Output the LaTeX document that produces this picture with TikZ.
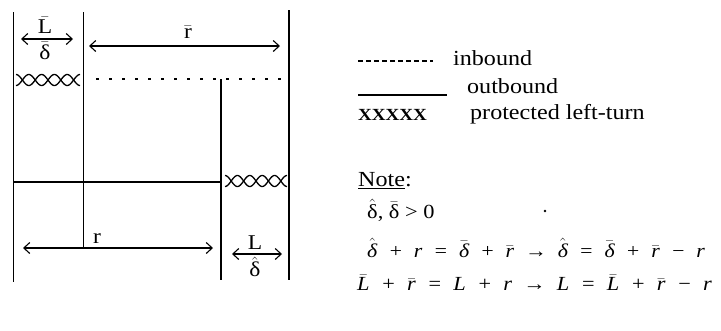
\documentclass[tikz,border=0pt]{standalone}
\usepackage{fontspec}
\setmainfont[FakeStretch=1.12]{Liberation Serif}
\usetikzlibrary{arrows.meta}
\newcommand\xxchain[4]{% x0, x1, y, name
  \pgfmathsetmacro\xw{(#2-#1)/5}
  \draw[xmark] plot[domain=#1:#2,samples=90] (\x,{#3+5.5*cos(180*(\x-#1)/\xw)});
  \draw[xmark] plot[domain=#1:#2,samples=90] (\x,{#3-5.5*cos(180*(\x-#1)/\xw)});
  \coordinate (#4) at ({(#1+#2)/2},#3);
}
\newcommand\barup[1]{$\bar{\mbox{#1}}$}
\newcommand\hatup[1]{$\hat{\mbox{#1}}$}
\newcommand\barit[1]{$\bar{\mbox{\itshape #1}}$}
\newcommand\hatit[1]{$\hat{\mbox{\itshape #1}}$}
\begin{document}
\begin{tikzpicture}[x=1pt,y=-1pt,
  road/.style={line width=1.3pt},
  xmark/.style={line width=1.3pt},
  dots/.style={line width=1.3pt,dash pattern=on 3pt off 10pt},
  dim/.style={line width=1.1pt,{Straight Barb[length=6pt,width=11pt]}-{Straight Barb[length=6pt,width=11pt]}},
  lbl/.style={font=\fontsize{21}{21}\selectfont,inner sep=0pt},
  txt/.style={font=\fontsize{21.5}{21.5}\selectfont,inner sep=0pt,anchor=west},
  eq/.style={font=\fontsize{20}{20}\selectfont\itshape,inner sep=0pt,anchor=west}]
\useasboundingbox (0,0) rectangle (721,330);
% lines
\coordinate (A1) at (13.5,12); \coordinate (A2) at (13.5,282);
\coordinate (B1) at (83.5,12); \coordinate (B2) at (83.5,248);
\coordinate (C1) at (221,79);  \coordinate (C2) at (221,280);
\coordinate (D1) at (289,10);  \coordinate (D2) at (289,280);
\coordinate (H1) at (13.5,182); \coordinate (H2) at (221,182);
\coordinate (E1) at (96,79);   \coordinate (E2) at (288,79);
\draw[road] (A1) -- (A2);
\draw[road] (B1) -- (B2);
\draw[road] (C1) -- (C2);
\draw[road] (D1) -- (D2);
\draw[road] (H1) -- (H2);
\draw[dots] (E1) -- (E2);
\xxchain{16}{80}{80}{X1}
\xxchain{225}{287}{181}{X2}
% dimension arrows
\coordinate (LA1) at (21,39);  \coordinate (LA2) at (73,39);
\coordinate (RA1) at (89,46);  \coordinate (RA2) at (280,46);
\coordinate (rA1) at (23,248); \coordinate (rA2) at (213,248);
\coordinate (lA1) at (232,254); \coordinate (lA2) at (282,254);
\draw[dim] (LA1) -- (LA2);
\draw[dim] (RA1) -- (RA2);
\draw[dim] (rA1) -- (rA2);
\draw[dim] (lA1) -- (lA2);
\node[lbl] (lbar) at (45,25) {\barup{L}};
\node[lbl] (dbar) at (45,51) {\barup{δ}};
\node[lbl] (rbar) at (188,32) {\barup{r}};
\node[lbl] (rr) at (97,239) {r};
\node[lbl] (ll) at (255,243) {L};
\node[lbl] (dhat) at (255,267) {\hatup{δ}};
% legend
\coordinate (G1) at (358,61); \coordinate (G2) at (433,61);
\draw[line width=1.1pt,dash pattern=on 5pt off 3pt] (G1) -- (G2);
\node[txt] (inb) at (453,58) {inbound};
\coordinate (O1) at (358,95); \coordinate (O2) at (447,95);
\draw[line width=1.3pt] (O1) -- (O2);
\node[txt] (outb) at (467,86) {outbound};
\node[txt,font=\fontsize{17}{17}\selectfont\bfseries] (xx) at (358,115) {XXXXX};
\node[txt] (prot) at (470,114) {protected left-turn};
\node[txt] (note) at (358,181) {\underline{Note}:};
\node[txt,font=\fontsize{20}{20}\selectfont] (pos) at (367,210) {\hatup{δ}, \barup{δ} > 0};
\fill (545,211) circle (1.3pt) coordinate (dot);
\node[eq,font=\fontsize{19.5}{19.5}\selectfont\itshape] (eq1) at (367,248) {\hatit{δ} \ + \ r \ = \ \barit{δ} \ + \ \barit{r} \ → \ \hatit{δ} \ = \ \barit{δ} \ + \ \barit{r} \ − \ r};
\node[eq] (eq2) at (357,283) {\barit{L} \ + \ \barit{r} \ = \ L \ + \ r \ → \ L \ = \ \barit{L} \ + \ \barit{r} \ − \ r};
\end{tikzpicture}
\end{document}
